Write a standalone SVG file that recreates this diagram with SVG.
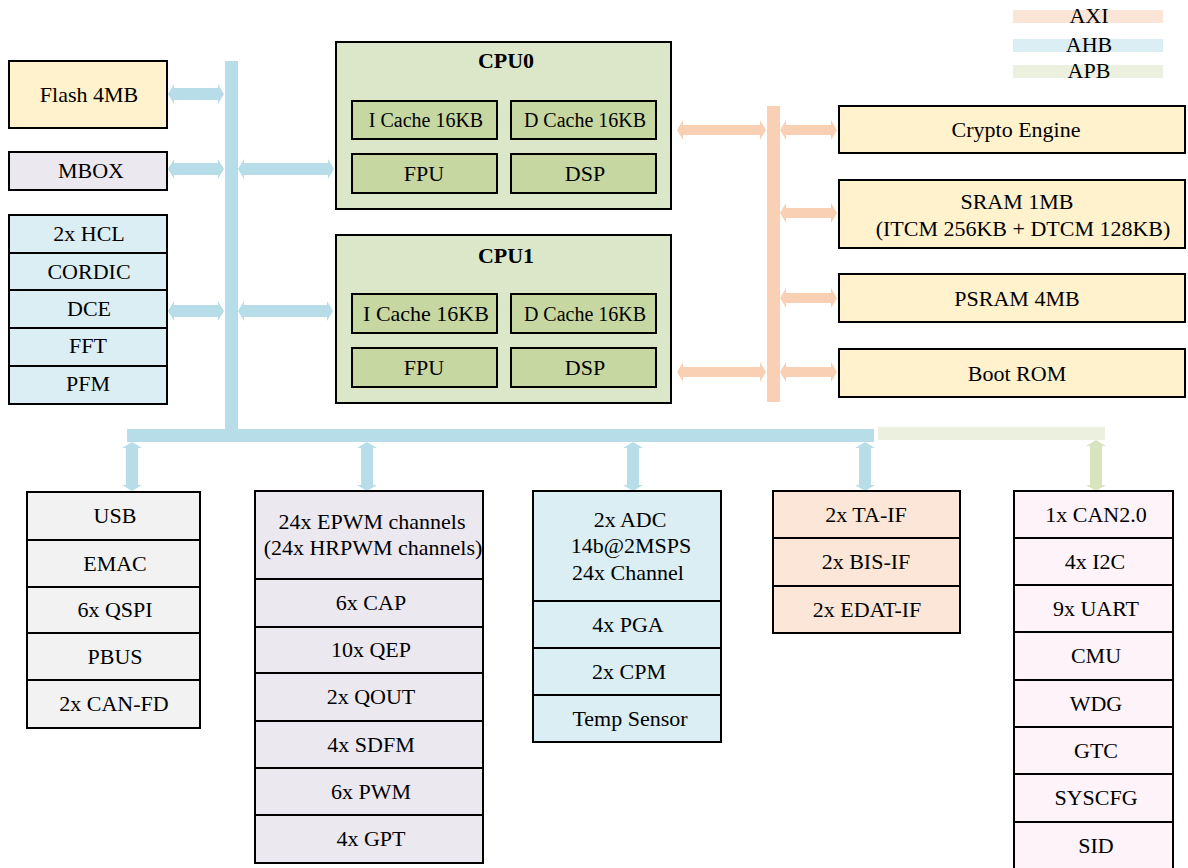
<svg xmlns="http://www.w3.org/2000/svg" width="1188" height="868" viewBox="0 0 1188 868" font-family="'Liberation Serif', Tinos, 'Times New Roman', 'DejaVu Serif', serif">
<style>
text{font-family:'Liberation Serif',Tinos,'Times New Roman','DejaVu Serif',serif;font-size:22px;fill:#000;text-anchor:middle}
.s{font-size:20px}
.b{stroke:#000;stroke-width:2}
.yel{fill:#fff2cc}
.lav{fill:#ebe8f0}
.blu{fill:#daeef3}
.gry{fill:#f2f2f2}
.pch{fill:#fbe6d7}
.pnk{fill:#fdf3f8}
.cpu{fill:#dce6c8}
.sub{fill:#c6d7a1}
.ahb{fill:#b7dde8}
.axi{fill:#f9d0b3}
.apb{fill:#ebf1de}
.apba{fill:#d7e4bd}
.t{font-weight:bold}
</style>
<g id="legend">
<rect x="1013" y="10" width="150" height="13" fill="#fbe5d6"/>
<text x="1089" y="23">AXI</text>
<rect x="1013" y="39" width="150" height="13" fill="#daeef3"/>
<text x="1089" y="52">AHB</text>
<rect x="1013" y="65" width="150" height="13" fill="#ebf1de"/>
<text x="1089" y="78">APB</text>
</g>
<g id="connectors">
<rect class="ahb" x="225" y="61" width="13" height="381"/>
<rect class="ahb" x="127" y="429" width="747" height="13"/>
<rect class="axi" x="767" y="106" width="13" height="296"/>
<rect class="apb" x="878" y="427" width="227" height="13"/>
<polygon class="ahb" points="168,94 174,84 174,88 218,88 218,84 224,94 218,104 218,100 174,100 174,104"/>
<polygon class="ahb" points="168,169 174,159 174,163 218,163 218,159 224,169 218,179 218,175 174,175 174,179"/>
<polygon class="ahb" points="238,169 244,159 244,163 328,163 328,159 334,169 328,179 328,175 244,175 244,179"/>
<polygon class="ahb" points="168,311 174,301 174,305 218,305 218,301 224,311 218,321 218,317 174,317 174,321"/>
<polygon class="ahb" points="238,311 244,301 244,305 327,305 327,301 333,311 327,321 327,317 244,317 244,321"/>
<polygon class="axi" points="677,130 683,120 683,125 760,125 760,120 766,130 760,140 760,135 683,135 683,140"/>
<polygon class="axi" points="677,372 683,362 683,367 760,367 760,362 766,372 760,382 760,377 683,377 683,382"/>
<polygon class="axi" points="780,130 786,120 786,125 831,125 831,120 837,130 831,140 831,135 786,135 786,140"/>
<polygon class="axi" points="780,213 786,203 786,208 831,208 831,203 837,213 831,223 831,218 786,218 786,223"/>
<polygon class="axi" points="780,298 786,288 786,293 831,293 831,288 837,298 831,308 831,303 786,303 786,308"/>
<polygon class="axi" points="780,372 786,362 786,367 831,367 831,362 837,372 831,382 831,377 786,377 786,382"/>
<polygon class="ahb" points="132,442 142,448 138,448 138,485 142,485 132,491 122,485 126,485 126,448 122,448"/>
<polygon class="ahb" points="367,442 377,448 373,448 373,485 377,485 367,491 357,485 361,485 361,448 357,448"/>
<polygon class="ahb" points="633,442 643,448 639,448 639,485 643,485 633,491 623,485 627,485 627,448 623,448"/>
<polygon class="ahb" points="865,442 875,448 871,448 871,485 875,485 865,491 855,485 859,485 859,448 855,448"/>
<polygon class="apba" points="1096,440 1106,446 1102,446 1102,485 1106,485 1096,491 1086,485 1090,485 1090,446 1086,446"/>
</g>
<g id="flash">
<rect class="b yel" x="9" y="61" width="158" height="67"/>
<text x="89" y="102">Flash 4MB</text>
</g>
<g id="mbox">
<rect class="b lav" x="9" y="152" width="158" height="38"/>
<text x="91" y="178">MBOX</text>
</g>
<g id="math">
<rect class="b blu" x="9" y="215" width="158" height="38"/>
<rect class="b blu" x="9" y="253" width="158" height="37"/>
<rect class="b blu" x="9" y="290" width="158" height="38"/>
<rect class="b blu" x="9" y="328" width="158" height="38"/>
<rect class="b blu" x="9" y="366" width="158" height="38"/>
<text x="89" y="241">2x HCL</text>
<text x="89" y="279">CORDIC</text>
<text x="89" y="316">DCE</text>
<text x="88" y="353">FFT</text>
<text x="88" y="391">PFM</text>
</g>
<g id="cpu0">
<rect class="b cpu" x="336" y="42" width="335" height="167"/>
<text class="t" x="506" y="68">CPU0</text>
<rect class="b sub" x="352" y="101" width="145" height="38"/>
<rect class="b sub" x="511" y="101" width="145" height="38"/>
<rect class="b sub" x="352" y="154" width="145" height="39"/>
<rect class="b sub" x="511" y="154" width="145" height="39"/>
<text class="s" x="426" y="127">I Cache 16KB</text>
<text class="s" x="585" y="127">D Cache 16KB</text>
<text x="424" y="181">FPU</text>
<text x="585" y="181">DSP</text>
</g>
<g id="cpu1">
<rect class="b cpu" x="336" y="235" width="335" height="168"/>
<text class="t" x="506" y="263">CPU1</text>
<rect class="b sub" x="352" y="294" width="145" height="39"/>
<rect class="b sub" x="511" y="294" width="145" height="39"/>
<rect class="b sub" x="352" y="348" width="145" height="39"/>
<rect class="b sub" x="511" y="348" width="145" height="39"/>
<text x="426" y="321">I Cache 16KB</text>
<text class="s" x="585" y="321">D Cache 16KB</text>
<text x="424" y="375">FPU</text>
<text x="585" y="375">DSP</text>
</g>
<g id="crypto">
<rect class="b yel" x="839" y="106" width="346" height="47"/>
<text x="1016" y="137">Crypto Engine</text>
</g>
<g id="sram">
<rect class="b yel" x="839" y="180" width="346" height="68"/>
<text x="1017" y="209">SRAM 1MB</text>
<text x="1023" y="236">(ITCM 256KB + DTCM 128KB)</text>
</g>
<g id="psram">
<rect class="b yel" x="839" y="274" width="346" height="48"/>
<text x="1017" y="306">PSRAM 4MB</text>
</g>
<g id="bootrom">
<rect class="b yel" x="839" y="349" width="346" height="48"/>
<text x="1017" y="381">Boot ROM</text>
</g>
<g id="comm">
<rect class="b gry" x="27" y="492" width="173" height="48"/>
<rect class="b gry" x="27" y="540" width="173" height="47"/>
<rect class="b gry" x="27" y="587" width="173" height="46"/>
<rect class="b gry" x="27" y="633" width="173" height="47"/>
<rect class="b gry" x="27" y="680" width="173" height="48"/>
<text x="115" y="523">USB</text>
<text x="115" y="571">EMAC</text>
<text x="115" y="617">6x QSPI</text>
<text x="115" y="664">PBUS</text>
<text x="114" y="711">2x CAN-FD</text>
</g>
<g id="pwm">
<rect class="b lav" x="255" y="491" width="228" height="88"/>
<rect class="b lav" x="255" y="579" width="228" height="48"/>
<rect class="b lav" x="255" y="627" width="228" height="46"/>
<rect class="b lav" x="255" y="673" width="228" height="48"/>
<rect class="b lav" x="255" y="721" width="228" height="47"/>
<rect class="b lav" x="255" y="768" width="228" height="47"/>
<rect class="b lav" x="255" y="815" width="228" height="48"/>
<text x="372" y="529">24x EPWM channels</text>
<text x="373" y="555">(24x HRPWM channels)</text>
<text x="371" y="610">6x CAP</text>
<text x="371" y="657">10x QEP</text>
<text x="371" y="704">2x QOUT</text>
<text x="371" y="752">4x SDFM</text>
<text x="371" y="799">6x PWM</text>
<text x="371" y="846">4x GPT</text>
</g>
<g id="analog">
<rect class="b blu" x="533" y="491" width="188" height="110"/>
<rect class="b blu" x="533" y="601" width="188" height="47"/>
<rect class="b blu" x="533" y="648" width="188" height="47"/>
<rect class="b blu" x="533" y="695" width="188" height="47"/>
<text x="630" y="527">2x ADC</text>
<text x="631" y="553">14b@2MSPS</text>
<text x="628" y="580">24x Channel</text>
<text x="628" y="632">4x PGA</text>
<text x="629" y="679">2x CPM</text>
<text x="630" y="726">Temp Sensor</text>
</g>
<g id="encoder">
<rect class="b pch" x="773" y="491" width="187" height="47"/>
<rect class="b pch" x="773" y="538" width="187" height="48"/>
<rect class="b pch" x="773" y="586" width="187" height="47"/>
<text x="866" y="522">2x TA-IF</text>
<text x="866" y="569">2x BIS-IF</text>
<text x="867" y="617">2x EDAT-IF</text>
</g>
<g id="periph">
<rect class="b pnk" x="1014" y="491" width="159" height="47"/>
<rect class="b pnk" x="1014" y="538" width="159" height="47"/>
<rect class="b pnk" x="1014" y="585" width="159" height="47"/>
<rect class="b pnk" x="1014" y="632" width="159" height="48"/>
<rect class="b pnk" x="1014" y="680" width="159" height="47"/>
<rect class="b pnk" x="1014" y="727" width="159" height="47"/>
<rect class="b pnk" x="1014" y="774" width="159" height="48"/>
<rect class="b pnk" x="1014" y="822" width="159" height="48"/>
<text x="1096" y="522">1x CAN2.0</text>
<text x="1095" y="569">4x I2C</text>
<text x="1096" y="616">9x UART</text>
<text x="1096" y="663">CMU</text>
<text x="1096" y="711">WDG</text>
<text x="1096" y="758">GTC</text>
<text x="1096" y="805">SYSCFG</text>
<text x="1096" y="853">SID</text>
</g>
</svg>
